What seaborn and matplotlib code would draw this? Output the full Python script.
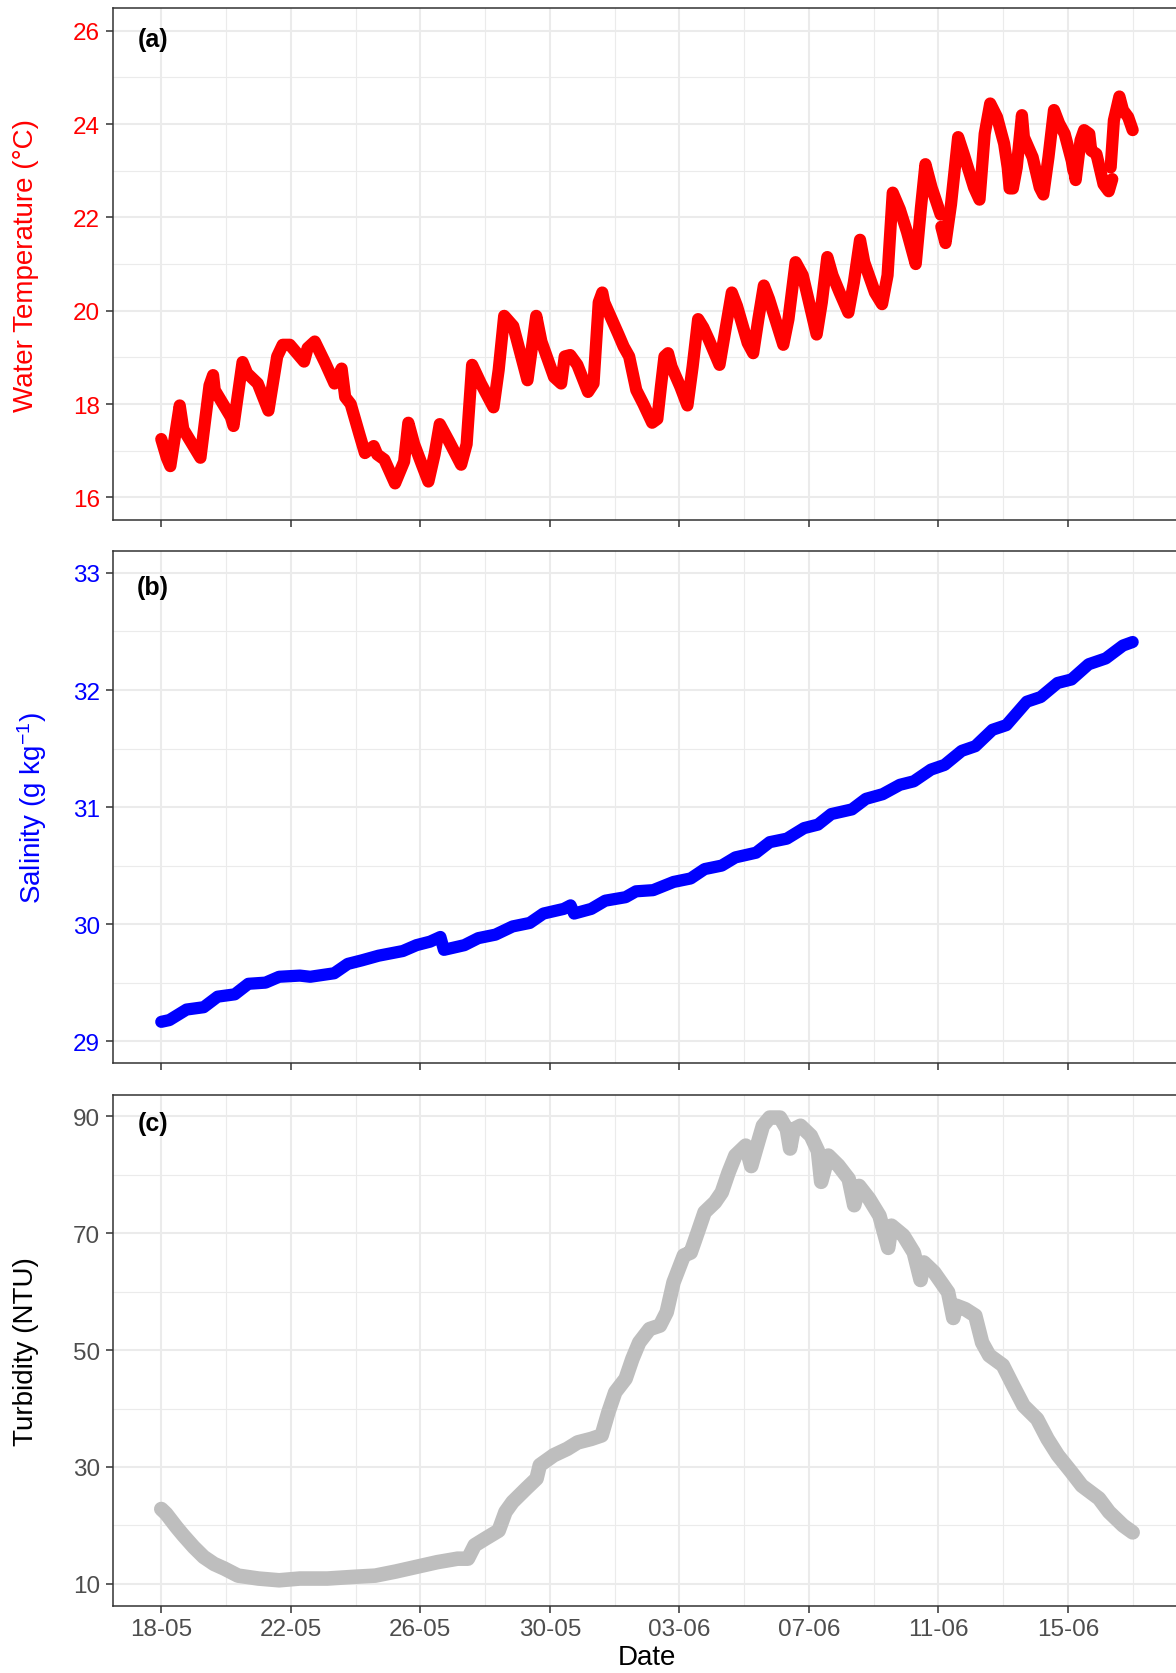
import numpy as np
import pandas as pd
import matplotlib
matplotlib.use("Agg")
import matplotlib.pyplot as plt
import matplotlib.dates as mdates
import seaborn as sns

# ---------------------------------------------------------------- data
START = pd.Timestamp("2021-05-18")

# water temperature (deg C); NaN marks a gap in the record
temp_day = [
    0.00, 0.17, 0.28, 0.57, 0.68, 1.21, 1.49, 1.60, 1.65, 2.15, 2.23, 2.51, 2.65,
    2.98, 3.31, 3.58, 3.75, 3.97, 4.19, 4.41, 4.52, 4.74, 5.07, 5.35, 5.57, 5.68,
    5.85, 6.12, 6.29, 6.56, 6.67, 6.89, 7.22, 7.50, 7.63, 7.81, 8.05, 8.25, 8.44,
    8.60, 8.88, 9.26, 9.43, 9.60, 9.87, 10.26, 10.42, 10.59, 10.87, 11.31, 11.58,
    11.74, 12.13, 12.35, 12.46, 12.63, 12.85, 13.18, 13.35, 13.51, 13.62, 13.68,
    14.12, 14.28, 14.45, 14.67, 14.89, 15.16, 15.32, 15.43, 15.54, 15.65, 15.76,
    16.03, 16.25, 16.41, 16.58, 16.74, 16.91, 17.24, 17.46, 17.62, 17.78, 18.11,
    18.28, 18.44, 18.61, 18.77, 19.21, 19.37, 19.59, 19.81, 20.24, 20.40, 20.57,
    20.73, 20.95, 21.22, 21.39, 21.58, 21.71, 22.04, 22.26, 22.43, 22.59, 22.81,
    23.03, 23.30, 23.46, 23.60, 23.79, 24.07, np.nan, 24.09, 24.22, 24.39, 24.61,
    24.78, 25.10, 25.27, 25.43, 25.60, 25.81, 26.03, 26.14, 26.20, 26.30, 26.42,
    26.58, 26.64, 26.91, 27.13, 27.24, 27.40, 27.57, 27.73, 27.90, 28.12, 28.17,
    np.nan, 28.17, 28.24, 28.39, 28.50, 28.66, 28.72, 28.88, 29.10, 29.26, 29.37,
    np.nan, 29.32, 29.42, 29.59, 29.70, 29.86, 30.00,
]
temp_val = [
    17.25, 16.85, 16.67, 17.97, 17.46, 16.85, 18.40, 18.62, 18.30, 17.72, 17.53,
    18.90, 18.66, 18.44, 17.86, 19.02, 19.27, 19.27, 19.09, 18.91, 19.20, 19.34,
    18.87, 18.44, 18.76, 18.15, 18.00, 17.35, 16.95, 17.10, 16.92, 16.81, 16.30,
    16.77, 17.60, 17.14, 16.70, 16.34, 16.92, 17.57, 17.21, 16.70, 17.14, 18.84,
    18.44, 17.93, 18.73, 19.89, 19.67, 18.51, 19.89, 19.34, 18.58, 18.44, 19.02,
    19.05, 18.84, 18.26, 18.44, 20.18, 20.39, 20.18, 19.49, 19.23, 19.02, 18.30,
    18.00, 17.60, 17.68, 18.37, 19.02, 19.09, 18.80, 18.37, 17.97, 18.80, 19.82,
    19.64, 19.38, 18.84, 19.74, 20.39, 20.10, 19.31, 19.09, 19.82, 20.54, 20.25,
    19.27, 19.82, 21.04, 20.76, 19.49, 20.18, 21.15, 20.76, 20.39, 19.96, 20.61,
    21.52, 21.04, 20.39, 20.14, 20.76, 22.53, 22.17, 21.69, 21.00, 22.20, 23.14,
    22.64, 22.06, np.nan, 21.80, 21.45, 22.28, 23.72, 23.36, 22.64, 22.38, 23.79,
    24.44, 24.15, 23.58, 23.07, 22.62, 22.62, 23.07, 24.19, 23.72, 23.29, 22.64,
    22.49, 23.29, 24.30, 24.01, 23.79, 23.21, 23.00, np.nan, 23.10, 22.80, 23.65,
    23.87, 23.79, 23.43, 23.36, 22.71, 22.56, 22.82, np.nan, 23.07, 24.08, 24.59,
    24.30, 24.15, 23.87,
]

# salinity (g/kg)
sal_day = [
    0.00, 0.25, 0.78, 1.31, 1.74, 2.27, 2.69, 3.22, 3.64, 4.28, 4.60, 5.34, 5.76,
    6.19, 6.71, 7.46, 7.88, 8.30, 8.62, 8.73, 9.36, 9.79, 10.32, 10.85, 11.38,
    11.80, 12.43, 12.64, 12.75, 13.28, 13.71, 14.34, 14.66, 15.19, 15.82, 16.35,
    16.78, 17.31, 17.73, 18.37, 18.79, 19.32, 19.85, 20.28, 20.69, 21.33, 21.76,
    22.28, 22.81, 23.24, 23.77, 24.19, 24.72, 25.14, 25.67, 26.10, 26.73, 27.16,
    27.68, 28.11, 28.64, 29.17, 29.70, 30.00,
]
sal_val = [
    29.165, 29.18, 29.27, 29.29, 29.38, 29.40, 29.49, 29.50, 29.55, 29.56, 29.55,
    29.58, 29.66, 29.69, 29.73, 29.77, 29.82, 29.85, 29.89, 29.78, 29.82, 29.88,
    29.91, 29.98, 30.01, 30.09, 30.13, 30.16, 30.09, 30.13, 30.20, 30.23, 30.28,
    30.29, 30.36, 30.39, 30.47, 30.50, 30.57, 30.61, 30.70, 30.73, 30.82, 30.85,
    30.94, 30.98, 31.07, 31.11, 31.19, 31.22, 31.32, 31.36, 31.48, 31.52, 31.66,
    31.70, 31.90, 31.94, 32.06, 32.09, 32.22, 32.27, 32.38, 32.41,
]

# turbidity (NTU)
turb_day = [
    0.00, 0.15, 0.47, 0.68, 1.00, 1.31, 1.63, 1.95, 2.37, 3.00, 3.64, 4.28, 5.13,
    5.97, 6.61, 7.24, 7.88, 8.52, 9.15, 9.47, 9.68, 10.00, 10.42, 10.63, 10.85,
    11.27, 11.59, 11.69, 12.12, 12.54, 12.86, 13.28, 13.60, 13.81, 14.02, 14.34,
    14.55, 14.76, 15.08, 15.40, 15.61, 15.82, 16.14, 16.35, 16.57, 16.78, 17.10,
    17.31, 17.52, 17.73, 18.05, 18.22, 18.37, 18.58, 18.79, 19.11, 19.32, 19.42,
    19.53, 19.74, 20.06, 20.28, 20.38, 20.60, 20.91, 21.23, 21.40, 21.55, 21.86,
    22.18, 22.45, 22.55, 22.92, 23.24, 23.45, 23.55, 23.87, 24.30, 24.46, 24.55,
    24.83, 25.14, 25.35, 25.57, 25.99, 26.31, 26.63, 27.05, 27.37, 27.69, 28.11,
    28.43, 28.96, 29.27, 29.70, 30.00,
]
turb_val = [
    22.8, 22.0, 19.7, 18.3, 16.3, 14.6, 13.4, 12.6, 11.4, 10.9, 10.6, 10.9, 10.9,
    11.2, 11.4, 12.1, 12.9, 13.7, 14.3, 14.3, 16.6, 17.7, 19.1, 22.3, 24.0, 26.3,
    28.0, 30.3, 32.0, 33.1, 34.2, 34.8, 35.4, 39.4, 42.8, 45.1, 48.5, 51.3, 53.6,
    54.2, 56.5, 61.6, 66.2, 66.7, 70.2, 73.6, 75.3, 77.0, 80.4, 83.3, 85.0, 81.5,
    84.4, 88.4, 89.8, 89.8, 87.8, 84.5, 87.8, 88.4, 86.7, 84.1, 78.8, 83.3, 81.6,
    79.3, 74.8, 78.1, 75.9, 73.0, 67.5, 71.3, 69.6, 66.7, 62.0, 65.0, 63.3, 59.9,
    55.5, 57.6, 57.0, 55.9, 51.3, 49.1, 47.4, 43.9, 40.5, 38.2, 34.8, 32.0, 29.1,
    26.8, 24.6, 22.3, 20.0, 18.8,
]

# axis breaks
temp_ticks = [16, 18, 20, 22, 24, 26]
temp_minor = [17, 19, 21, 23, 25]
sal_ticks = [29, 30, 31, 32, 33]
sal_minor = [29.5, 30.5, 31.5, 32.5]
turb_ticks = [10, 30, 50, 70, 90]
turb_minor = [20, 40, 60, 80]

major_dates = pd.date_range(START, periods=8, freq="4D")
minor_dates = pd.date_range(START + pd.Timedelta(days=2), periods=8, freq="4D")


def series_frame(days, values, name):
    d = np.asarray(days, dtype=float)
    v = np.asarray(values, dtype=float)
    seg = np.cumsum(np.isnan(d))
    keep = ~np.isnan(d)
    return pd.DataFrame({
        "time": START + pd.to_timedelta(d[keep], unit="D"),
        name: v[keep],
        "seg": seg[keep],
    })


df_temp = series_frame(temp_day, temp_val, "temp")
df_sal = series_frame(sal_day, sal_val, "sal")
df_turb = series_frame(turb_day, turb_val, "turb")

# ---------------------------------------------------------------- style
sns.set_theme(style="white")
plt.rcParams["font.family"] = ["Liberation Sans", "DejaVu Sans"]
plt.rcParams["mathtext.fontset"] = "custom"
plt.rcParams["mathtext.rm"] = "Liberation Sans"
plt.rcParams["mathtext.it"] = "Liberation Sans:italic"
plt.rcParams["mathtext.bf"] = "Liberation Sans:bold"

W, H = 1176, 1674
fig = plt.figure(figsize=(W / 100, H / 100), dpi=100)

left_px, width_px = 112.7, 33 * 32.38
panel_h = 511.5
tops = [9.3, 552.3, 1095.5]


def make_axes(top):
    return fig.add_axes([left_px / W, 1 - (top + panel_h) / H, width_px / W, panel_h / H])


axes = [make_axes(t) for t in tops]

xlo = START - pd.Timedelta(days=1.5)
xhi = START + pd.Timedelta(days=31.5)

specs = [
    dict(df=df_temp, y="temp", color="#FF0000", lw=8.8, ylim=(15.52, 26.48),
         major=temp_ticks, minor=temp_minor, tickc="#FF0000",
         label="Water Temperature (°C)", labc="#FF0000", labx=-0.0692,
         tag="(a)", tagy=0.94),
    dict(df=df_sal, y="sal", color="#0000FF", lw=8.8, ylim=(28.815, 33.185),
         major=sal_ticks, minor=sal_minor, tickc="#0000FF",
         label=r"Salinity (g kg$^{-1}$)", labc="#0000FF", labx=-0.060,
         tag="(b)", tagy=0.931),
    dict(df=df_turb, y="turb", color="#BEBEBE", lw=10.5, ylim=(6.2, 93.75),
         major=turb_ticks, minor=turb_minor, tickc="#4D4D4D",
         label="Turbidity (NTU)", labc="#000000", labx=-0.0694,
         tag="(c)", tagy=0.9445),
]

for i, (ax, s) in enumerate(zip(axes, specs)):
    sns.lineplot(data=s["df"], x="time", y=s["y"], units="seg", estimator=None,
                 sort=False, color=s["color"], linewidth=s["lw"], ax=ax,
                 legend=False)
    for ln in ax.lines:
        ln.set_solid_capstyle("round")
        ln.set_solid_joinstyle("round")

    ax.set_xlim(xlo, xhi)
    ax.set_ylim(*s["ylim"])
    ax.set_yticks(s["major"])
    ax.set_yticks(s["minor"], minor=True)
    ax.set_xticks(major_dates)
    ax.set_xticks(minor_dates, minor=True)
    ax.xaxis.set_major_formatter(mdates.DateFormatter("%d-%m"))

    ax.set_axisbelow(True)
    ax.grid(which="major", color="#EBEBEB", linewidth=1.45)
    ax.grid(which="minor", color="#EBEBEB", linewidth=0.8)
    for sp in ax.spines.values():
        sp.set_color("#333333")
        sp.set_linewidth(1.1)

    ax.tick_params(which="major", length=4.8, width=1.1, color="#333333",
                   labelsize=17.5, pad=4.5, bottom=True, left=True)
    ax.tick_params(which="minor", length=0)
    ax.tick_params(axis="y", labelcolor=s["tickc"])
    ax.tick_params(axis="x", labelcolor="#4D4D4D", pad=3.5)
    if i < 2:
        ax.tick_params(axis="x", labelbottom=False)
        ax.set_xlabel("")
    else:
        ax.set_xlabel("Date", fontsize=20, color="#000000")
        ax.xaxis.set_label_coords(0.5, -0.074)
        ax.xaxis.label.set_va("top")

    ax.set_ylabel(s["label"], fontsize=20, color=s["labc"])
    ax.yaxis.set_label_coords(s["labx"], 0.5)

    ax.text(0.0377, s["tagy"], s["tag"], transform=ax.transAxes, fontsize=18,
            fontweight="bold", ha="center", va="center", color="#000000")

fig.savefig("out.png", dpi=100)
